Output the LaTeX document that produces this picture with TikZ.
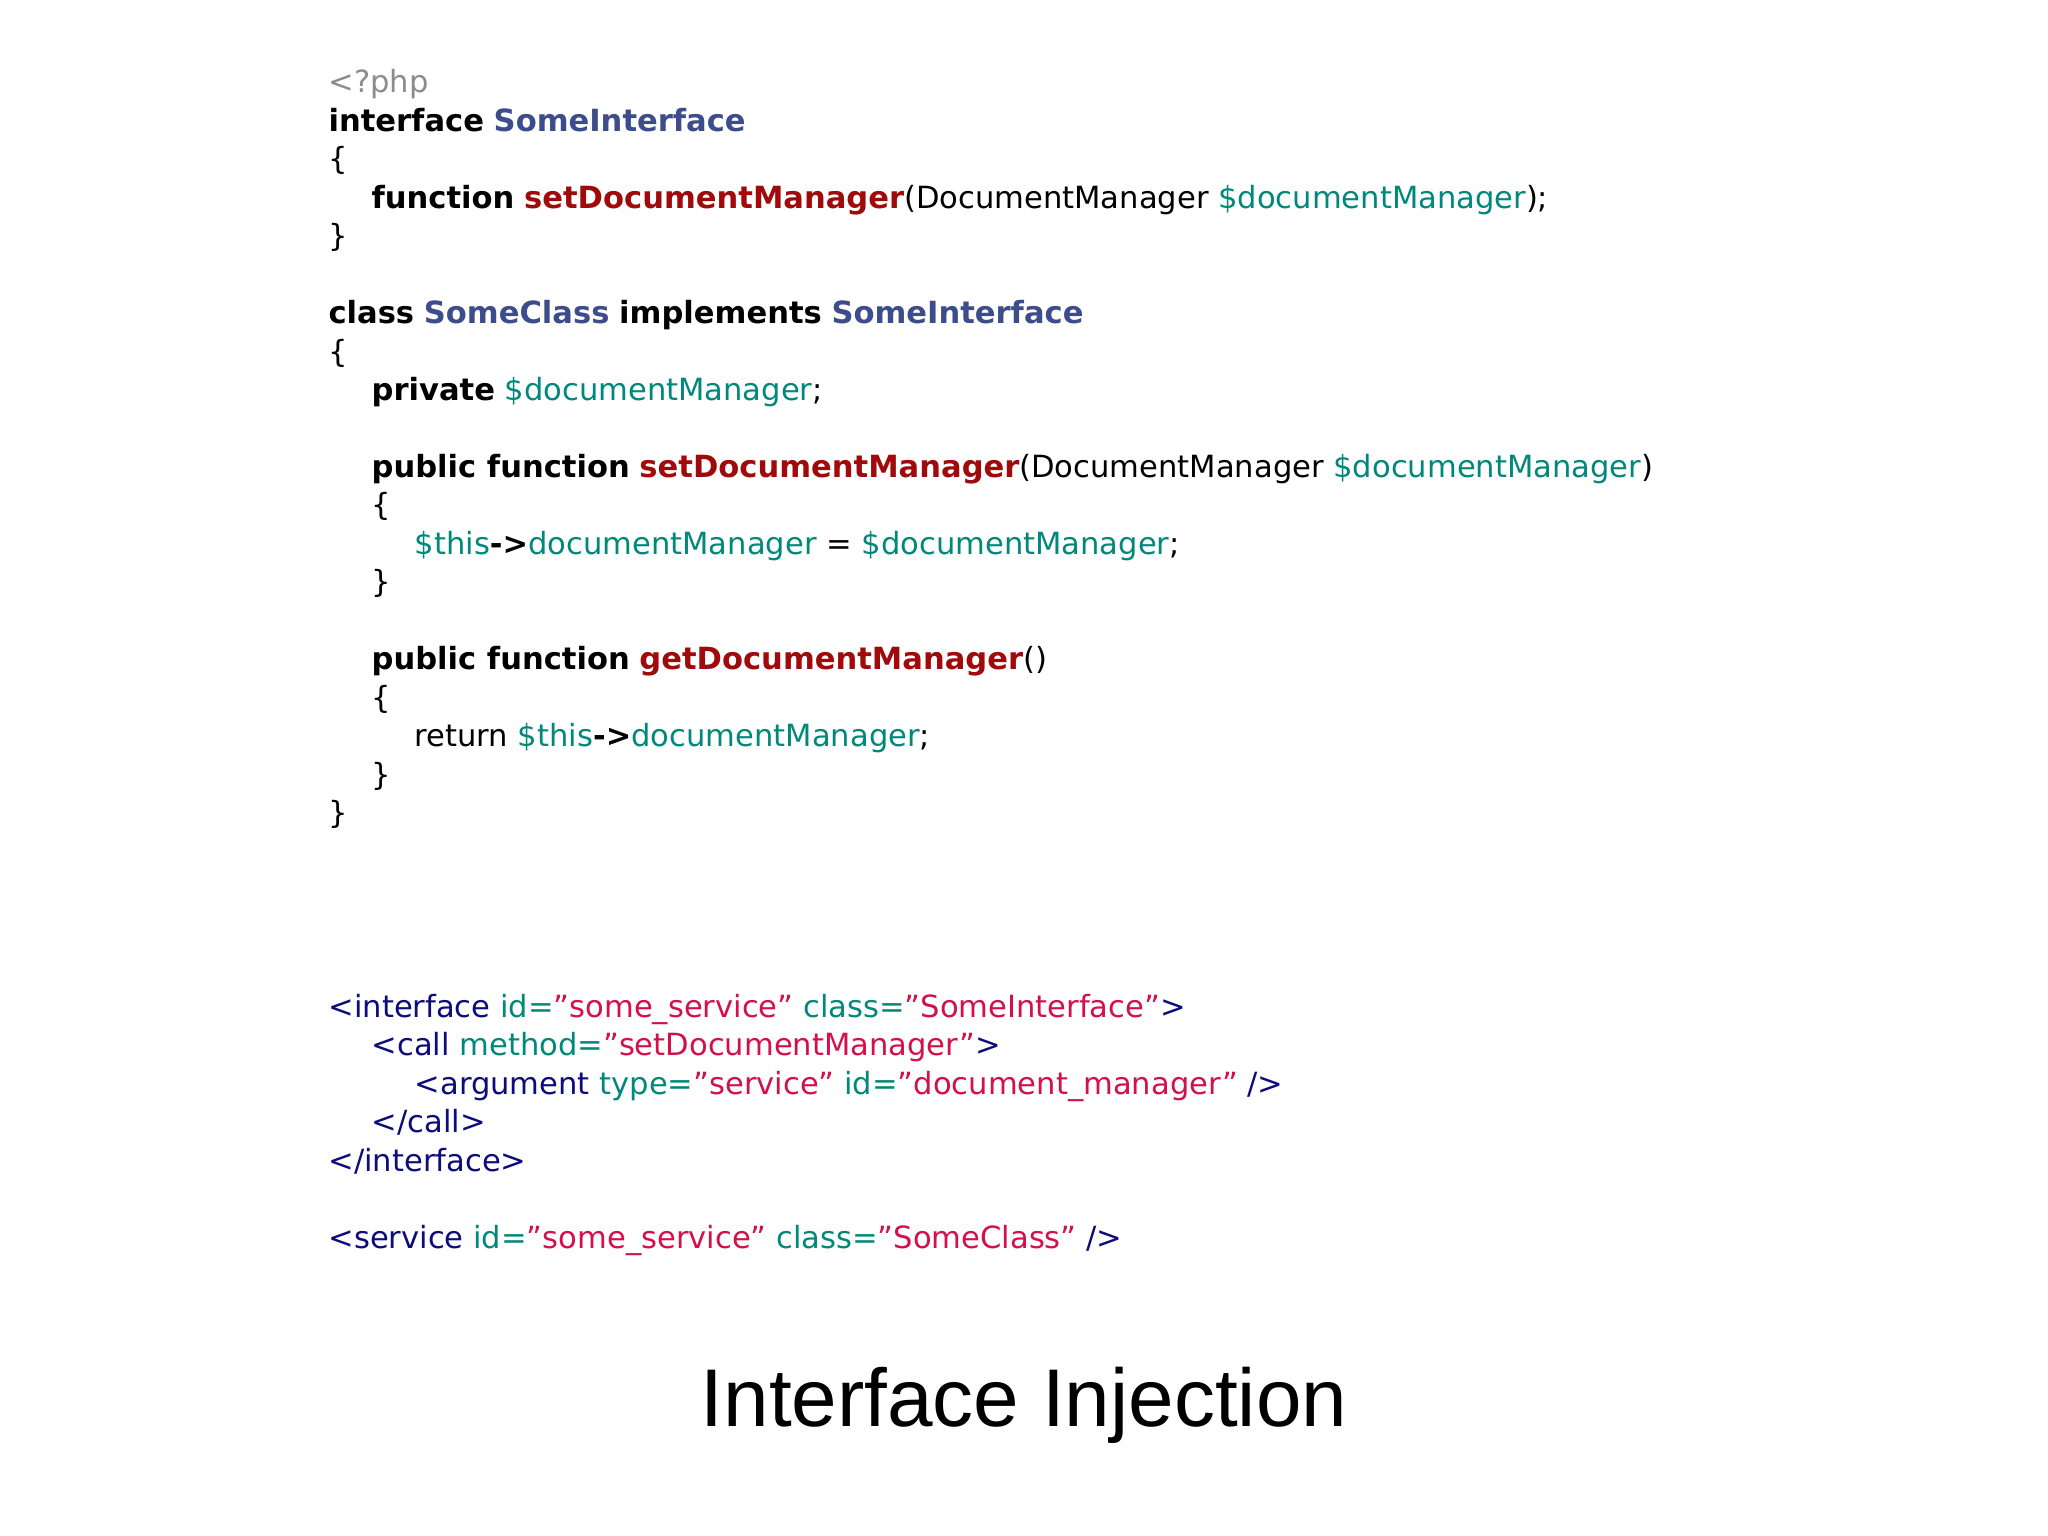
\documentclass[tikz,border=0pt]{standalone}
\usepackage{fontspec}
\setmainfont{DejaVu Sans}
\newfontfamily\titlefont{Liberation Sans}
\definecolor{cgray}{HTML}{8C8C8C}
\definecolor{cname}{HTML}{3D4C8A}
\definecolor{cfn}{HTML}{A00A0A}
\definecolor{cvar}{HTML}{00887A}
\definecolor{ctag}{HTML}{0C0C7A}
\definecolor{cval}{HTML}{D4104A}
\newcommand{\Kw}[1]{\textbf{#1}}
\newcommand{\Cn}[1]{\textcolor{cname}{\textbf{#1}}}
\newcommand{\Fn}[1]{\textcolor{cfn}{\textbf{#1}}}
\newcommand{\Vr}[1]{\textcolor{cvar}{#1}}
\newcommand{\Tg}[1]{\textcolor{ctag}{#1}}
\newcommand{\Va}[1]{\textcolor{cval}{\symbol{34}#1\symbol{34}}}
\begin{document}
\begin{tikzpicture}[x=0.01306cm,y=-0.01306cm,
  code/.style={anchor=base west,inner sep=0pt,font=\fontsize{8.7}{10}\selectfont}]
\useasboundingbox (0,0) rectangle (1568,1176);
\fill[white] (0,0) rectangle (1568,1176);
\def\L{251}\def\I{284}\def\II{317}
\node[code] (l0) at (\L,71) {\textcolor{cgray}{<?php}};
\node[code] (l1) at (\L,100.5) {\Kw{interface} \Cn{SomeInterface}};
\node[code] (l2) at (\L,130) {\{};
\node[code] (l3) at (\I,159.4) {\Kw{function} \Fn{setDocumentManager}(DocumentManager \Vr{\$documentManager});};
\node[code] (l4) at (\L,188.8) {\}};
\node[code] (l6) at (\L,247.8) {\Kw{class} \Cn{SomeClass} \Kw{implements} \Cn{SomeInterface}};
\node[code] (l7) at (\L,277.2) {\{};
\node[code] (l8) at (\I,306.7) {\Kw{private} \Vr{\$documentManager};};
\node[code] (l10) at (\I,365.6) {\Kw{public function} \Fn{setDocumentManager}(DocumentManager \Vr{\$documentManager})};
\node[code] (l11) at (\I,395) {\{};
\node[code] (l12) at (\II,424.5) {\Vr{\$this}\textbf{->}\Vr{documentManager} = \Vr{\$documentManager};};
\node[code] (l13) at (\I,454) {\}};
\node[code] (l15) at (\I,512.9) {\Kw{public function} \Fn{getDocumentManager}()};
\node[code] (l16) at (\I,542.4) {\{};
\node[code] (l17) at (\II,571.8) {return \Vr{\$this}\textbf{->}\Vr{documentManager};};
\node[code] (l18) at (\I,601.3) {\}};
\node[code] (l19) at (\L,630.8) {\}};
\node[code] (x0) at (\L,779) {\Tg{<interface} \Vr{id=}\Va{some\_service} \Vr{class=}\Va{SomeInterface}\Tg{>}};
\node[code] (x1) at (\I,808.5) {\Tg{<call} \Vr{method=}\Va{setDocumentManager}\Tg{>}};
\node[code] (x2) at (\II,838) {\Tg{<argument} \Vr{type=}\Va{service} \Vr{id=}\Va{document\_manager} \Tg{/>}};
\node[code] (x3) at (\I,867.4) {\Tg{</call>}};
\node[code] (x4) at (\L,896.9) {\Tg{</interface>}};
\node[code] (x6) at (\L,955.8) {\Tg{<service} \Vr{id=}\Va{some\_service} \Vr{class=}\Va{SomeClass} \Tg{/>}};
\node[anchor=base,inner sep=0pt,font=\titlefont\fontsize{23.3}{28}\selectfont] (title) at (784,1092) {Interface Injection};
\end{tikzpicture}
\end{document}
